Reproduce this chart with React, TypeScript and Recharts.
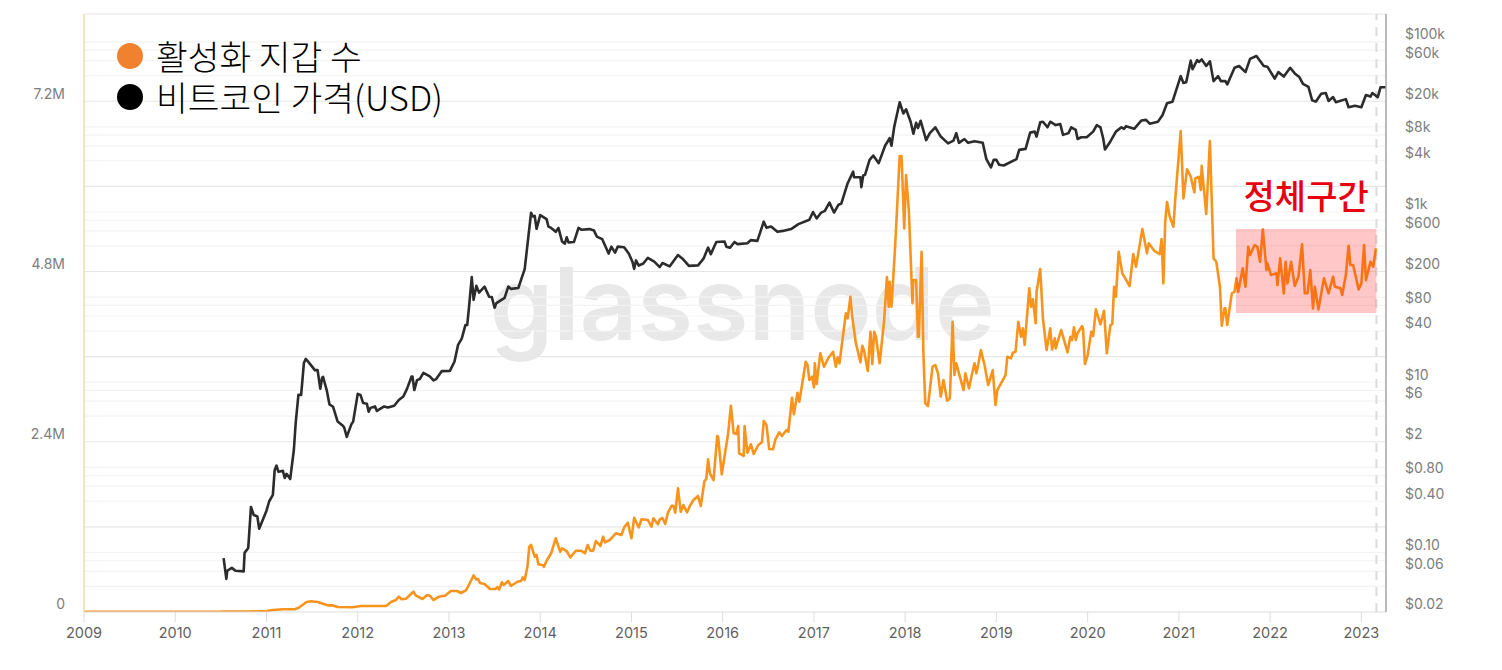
import React from "react";
import { LineChart, Line, XAxis, YAxis, ReferenceLine, ReferenceArea } from "recharts";

const yearTicks = [2009, 2010, 2011, 2012, 2013, 2014, 2015, 2016, 2017, 2018, 2019, 2020, 2021, 2022, 2023];
const walletTicks = [0, 2400, 4800, 7200];
const priceTicks = [0.02, 0.06, 0.1, 0.4, 0.8, 2, 6, 10, 40, 80, 200, 600, 1000, 4000, 8000, 20000, 60000, 100000];
const priceGridMinor = [0.04, 0.06, 0.08, 0.1, 0.4, 0.6, 0.8, 1, 4, 6, 8, 10, 40, 60, 80, 100, 400, 600, 800, 1000, 4000, 6000, 8000, 10000, 40000, 60000, 80000, 100000];
const priceGridMajor = [0.2, 2, 20, 200, 2000, 20000];

const legendItems = [
  { label: "활성화 지갑 수", color: "#f0812f" },
  { label: "비트코인 가격(USD)", color: "#000000" },
];

const priceDates = [
  2010.53, 2010.56, 2010.57, 2010.62, 2010.66, 2010.75, 2010.76, 2010.80, 2010.83, 2010.86, 2010.90, 2010.92,
  2011.00, 2011.03, 2011.07, 2011.09, 2011.11, 2011.13, 2011.18, 2011.20, 2011.22, 2011.26, 2011.30, 2011.32, 2011.35, 2011.38,
  2011.41, 2011.43, 2011.47, 2011.53, 2011.56, 2011.59, 2011.61, 2011.62, 2011.66, 2011.69, 2011.73, 2011.78, 2011.84, 2011.85, 2011.88, 2011.93, 2011.95,
  2012.00, 2012.03, 2012.06, 2012.10, 2012.12, 2012.14, 2012.19, 2012.21, 2012.29, 2012.33, 2012.40, 2012.45, 2012.50, 2012.54, 2012.59, 2012.60, 2012.62, 2012.65, 2012.68, 2012.72, 2012.79, 2012.83, 2012.86, 2012.92,
  2013.01, 2013.06, 2013.10, 2013.14, 2013.18, 2013.20, 2013.22, 2013.25, 2013.27, 2013.30, 2013.33, 2013.39, 2013.44, 2013.47, 2013.50, 2013.52, 2013.61, 2013.65, 2013.68, 2013.76, 2013.83, 2013.90, 2013.92, 2013.94, 2013.96,
  2014.00, 2014.07, 2014.09, 2014.12, 2014.17, 2014.20, 2014.24, 2014.27, 2014.29, 2014.31, 2014.37, 2014.42, 2014.45, 2014.54, 2014.59, 2014.62, 2014.68, 2014.75, 2014.78, 2014.82, 2014.85, 2014.92, 2014.97,
  2015.01, 2015.03, 2015.05, 2015.08, 2015.13, 2015.18, 2015.25, 2015.31, 2015.34, 2015.42, 2015.51, 2015.56, 2015.63, 2015.73, 2015.79, 2015.84, 2015.87, 2015.93,
  2016.02, 2016.04, 2016.08, 2016.13, 2016.16, 2016.27, 2016.31, 2016.38, 2016.45, 2016.48, 2016.53, 2016.60, 2016.66, 2016.75, 2016.83, 2016.95, 2016.99,
  2017.03, 2017.08, 2017.12, 2017.17, 2017.22, 2017.27, 2017.30, 2017.37, 2017.43, 2017.44, 2017.51, 2017.52, 2017.54, 2017.56, 2017.61, 2017.65, 2017.71, 2017.78, 2017.83, 2017.85, 2017.88, 2017.94, 2017.98,
  2018.01, 2018.06, 2018.09, 2018.12, 2018.14, 2018.17, 2018.23, 2018.27, 2018.33, 2018.39, 2018.47, 2018.53, 2018.56, 2018.59, 2018.65, 2018.69, 2018.76, 2018.85, 2018.89, 2018.94, 2018.97,
  2019.00, 2019.03, 2019.08, 2019.22, 2019.25, 2019.32, 2019.37, 2019.42, 2019.44, 2019.48, 2019.51, 2019.56, 2019.59, 2019.65, 2019.70, 2019.73, 2019.79, 2019.82, 2019.87, 2019.89, 2019.93, 2019.99,
  2020.06, 2020.10, 2020.14, 2020.17, 2020.19, 2020.24, 2020.31, 2020.37, 2020.40, 2020.42, 2020.51, 2020.59, 2020.64, 2020.68, 2020.77, 2020.82, 2020.87, 2020.93,
  2021.02, 2021.05, 2021.08, 2021.13, 2021.15, 2021.20, 2021.22, 2021.25, 2021.30, 2021.34, 2021.38, 2021.43, 2021.46, 2021.51, 2021.53, 2021.61, 2021.66, 2021.73, 2021.78, 2021.85, 2021.93, 2021.97,
  2022.05, 2022.09, 2022.15, 2022.22, 2022.27, 2022.32, 2022.36, 2022.42, 2022.46, 2022.50, 2022.56, 2022.61, 2022.64, 2022.69, 2022.72, 2022.83, 2022.86, 2022.93,
  2023.00, 2023.05, 2023.10, 2023.12, 2023.18, 2023.21, 2023.27,
];

const priceUsd = [
  0.086, 0.049, 0.061, 0.066, 0.061, 0.06, 0.099, 0.113, 0.343, 0.276, 0.265, 0.19,
  0.31, 0.4, 0.476, 0.933, 1.05, 0.89, 0.91, 0.75, 0.84, 0.73, 1.6, 3.3, 7.1, 7.1,
  16.8, 18.8, 16.8, 13.9, 13.9, 8.4, 11.3, 11.6, 8.1, 5.5, 5.15, 3.45, 3.06, 2.98, 2.28, 3.2, 3.45,
  7.3, 7.1, 5.7, 5.6, 4.5, 5.0, 5.2, 4.6, 5.2, 5.05, 5.3, 6.2, 6.8, 8.35, 11.7, 11.7, 8.1, 10.6, 10.9, 12.9, 11.7, 10.5, 10.9, 13.5,
  13.6, 17.4, 27.5, 32.5, 47, 47, 77, 172, 93, 136, 113, 133, 101, 100, 75, 85, 98, 133, 125, 128, 213, 980, 885, 900, 635,
  920, 825, 675, 650, 585, 650, 450, 425, 505, 440, 445, 650, 620, 630, 605, 515, 480, 325, 392, 333, 392, 385, 325,
  262, 215, 270, 235, 248, 290, 262, 225, 252, 230, 312, 283, 233, 236, 283, 382, 320, 445,
  450, 392, 380, 445, 420, 430, 468, 458, 770, 652, 675, 585, 600, 630, 720, 810, 1000,
  840, 985, 1030, 1290, 985, 1220, 1255, 2180, 2980, 2560, 2560, 1960, 2680, 2730, 4100, 4600, 3750, 6000, 7360, 6000, 10000, 19500, 14400,
  16100, 11500, 8300, 11200, 9700, 11800, 7000, 8450, 9900, 7700, 6400, 6900, 8450, 6500, 7200, 6500, 6800, 6500, 4180, 3340, 4100,
  4100, 3590, 3520, 4180, 5370, 5520, 8570, 8800, 7700, 11300, 11500, 9900, 11500, 10500, 10800, 8060, 8450, 9900, 9200, 7200, 7550, 7550,
  8800, 10500, 9900, 7360, 5430, 6500, 8800, 9900, 9500, 10200, 9500, 11900, 12100, 10900, 11500, 13700, 19000, 19800,
  39500, 32800, 33400, 60000, 47500, 61000, 58000, 62000, 52000, 59000, 34500, 39500, 34500, 34500, 31500, 49500, 52000, 44000, 63000, 68000, 52000, 51000,
  37000, 44000, 39000, 49500, 42500, 38500, 32000, 29500, 20600, 19800, 24500, 25000, 20200, 22400, 19500, 21200, 17000, 17700,
  17000, 23700, 22700, 25000, 22400, 29200, 29200,
];

const walletDates = [
  2009.00, 2009.50, 2010.00, 2010.50, 2010.53, 2010.80, 2011.00, 2011.07, 2011.18, 2011.31, 2011.36, 2011.44, 2011.49, 2011.56, 2011.67, 2011.72, 2011.78, 2011.94,
  2012.04, 2012.31, 2012.37, 2012.42, 2012.45, 2012.48, 2012.53, 2012.61, 2012.64, 2012.71, 2012.76, 2012.79, 2012.83, 2012.89, 2012.96,
  2013.02, 2013.09, 2013.13, 2013.19, 2013.27, 2013.30, 2013.32, 2013.34, 2013.39, 2013.45, 2013.51, 2013.53, 2013.55, 2013.58, 2013.60, 2013.65, 2013.68, 2013.75, 2013.79, 2013.81, 2013.83, 2013.86, 2013.88, 2013.90, 2013.94, 2013.96, 2013.98,
  2014.03, 2014.04, 2014.07, 2014.12, 2014.17, 2014.22, 2014.24, 2014.29, 2014.33, 2014.39, 2014.45, 2014.49, 2014.52, 2014.55, 2014.58, 2014.61, 2014.66, 2014.69, 2014.71, 2014.76, 2014.83, 2014.89, 2014.92, 2014.96,
  2015.00, 2015.03, 2015.08, 2015.11, 2015.18, 2015.22, 2015.24, 2015.29, 2015.31, 2015.34, 2015.37, 2015.40, 2015.44, 2015.46, 2015.48, 2015.51, 2015.54, 2015.57, 2015.61, 2015.64, 2015.68, 2015.73, 2015.76, 2015.80, 2015.82, 2015.84, 2015.86, 2015.90, 2015.94, 2015.95, 2015.99,
  2016.06, 2016.09, 2016.12, 2016.15, 2016.17, 2016.18, 2016.23, 2016.24, 2016.27, 2016.31, 2016.34, 2016.39, 2016.43, 2016.45, 2016.48, 2016.51, 2016.55, 2016.58, 2016.62, 2016.65, 2016.70, 2016.72, 2016.76, 2016.78, 2016.82, 2016.84, 2016.91, 2016.93, 2016.95, 2016.98,
  2017.00, 2017.01, 2017.03, 2017.07, 2017.11, 2017.16, 2017.21, 2017.24, 2017.26, 2017.28, 2017.35, 2017.37, 2017.40, 2017.42, 2017.46, 2017.51, 2017.53, 2017.55, 2017.59, 2017.62, 2017.64, 2017.66, 2017.68, 2017.72, 2017.77, 2017.80, 2017.82, 2017.83, 2017.85, 2017.89, 2017.94, 2017.96, 2017.99,
  2018.01, 2018.04, 2018.08, 2018.09, 2018.12, 2018.14, 2018.15, 2018.18, 2018.20, 2018.22, 2018.25, 2018.30, 2018.33, 2018.36, 2018.39, 2018.42, 2018.46, 2018.49, 2018.52, 2018.54, 2018.56, 2018.64, 2018.66, 2018.70, 2018.73, 2018.76, 2018.78, 2018.80, 2018.83, 2018.87, 2018.91, 2018.96, 2018.99,
  2019.01, 2019.10, 2019.12, 2019.16, 2019.18, 2019.21, 2019.24, 2019.27, 2019.29, 2019.31, 2019.36, 2019.38, 2019.40, 2019.43, 2019.44, 2019.48, 2019.51, 2019.55, 2019.59, 2019.61, 2019.64, 2019.65, 2019.71, 2019.78, 2019.81, 2019.83, 2019.85, 2019.87, 2019.89, 2019.94, 2019.95, 2019.97,
  2020.00, 2020.04, 2020.06, 2020.09, 2020.14, 2020.18, 2020.21, 2020.25, 2020.27, 2020.29, 2020.31, 2020.34, 2020.38, 2020.46, 2020.50, 2020.53, 2020.60, 2020.65, 2020.67, 2020.73, 2020.79, 2020.81, 2020.83, 2020.85, 2020.87, 2020.90, 2020.94, 2020.96,
  2021.02, 2021.05, 2021.09, 2021.13, 2021.17, 2021.18, 2021.22, 2021.24, 2021.25, 2021.30, 2021.34, 2021.38, 2021.41, 2021.45, 2021.47, 2021.50, 2021.51, 2021.53, 2021.58, 2021.61, 2021.63, 2021.65, 2021.70, 2021.73, 2021.76, 2021.78, 2021.83, 2021.86, 2021.89, 2021.92, 2021.96, 2021.97,
  2022.01, 2022.07, 2022.08, 2022.11, 2022.15, 2022.17, 2022.19, 2022.23, 2022.27, 2022.31, 2022.35, 2022.38, 2022.41, 2022.44, 2022.47, 2022.49, 2022.53, 2022.57, 2022.59, 2022.64, 2022.69, 2022.71, 2022.77, 2022.79, 2022.83, 2022.86, 2022.88, 2022.91, 2022.97,
  2023.00, 2023.03, 2023.05, 2023.10, 2023.13, 2023.16,
];

const walletThousands = [
  2, 3, 3, 5, 8, 6, 12, 28, 38, 38, 66, 141, 151, 141, 94, 94, 70, 66,
  85, 85, 145, 169, 216, 179, 188, 286, 230, 183, 240, 230, 169, 216, 233,
  296, 296, 268, 310, 515, 458, 465, 409, 395, 324, 324, 352, 317, 419, 381, 437, 367, 427, 437, 489, 451, 639, 921, 945, 780, 804, 673,
  658, 635, 723, 828, 1039, 850, 898, 860, 771, 864, 864, 828, 945, 864, 864, 1001, 931, 1062, 983, 1015, 1110, 1086, 1194, 1259,
  1039, 1330, 1194, 1307, 1297, 1203, 1321, 1237, 1307, 1325, 1241, 1400, 1499, 1499, 1400, 1744, 1414, 1509, 1406, 1495, 1579, 1636, 1495, 1847, 1871, 2153, 1956, 1861, 2482, 2472, 1942,
  2520, 2909, 2520, 2510, 2623, 2238, 2200, 2623, 2246, 2365, 2228, 2355, 2393, 2693, 2637, 2298, 2294, 2439, 2534, 2482, 2566, 2542, 3022, 2788, 3092, 2965, 3529, 3483, 3271, 3318,
  3168, 3507, 3215, 3648, 3459, 3586, 3670, 3459, 3591, 3507, 4212, 4141, 4446, 4164, 3789, 3521, 3755, 3684, 3398, 3952, 3497, 3952, 3882, 3507, 4117, 4724, 4305, 4657, 4305, 5151, 6430, 6430, 5410,
  6162, 5668, 4353, 4681, 4681, 3882, 3882, 5080, 3648, 2943, 2905, 3459, 3483, 3366, 3036, 3271, 2979, 3013, 4093, 3342, 3507, 3130, 3366, 3154, 3342, 3507, 3366, 3483, 3694, 3483, 3201, 3412, 2919,
  3130, 3342, 3600, 3577, 3656, 3670, 4093, 3882, 4000, 3765, 4564, 4305, 4409, 4071, 4516, 4836, 4141, 3694, 4000, 3704, 3859, 3718, 3976, 3662, 3882, 3835, 4014, 3835, 3934, 4033, 3990, 3497,
  3624, 3952, 3892, 4268, 4057, 4248, 3648, 4047, 4061, 4587, 4446, 5080, 4776, 4597, 5048, 4869, 5400, 5058, 5199, 5094, 5048, 5259, 4635, 5499, 5781, 5574, 5433, 5816,
  6782, 5833, 6242, 6138, 5918, 6115, 6138, 5950, 6293, 5612, 6641, 4987, 4939, 4587, 4037, 4282, 4282, 4047, 4494, 4516, 4705, 4516, 4846, 4587, 5151, 5034, 5175, 5151, 4939, 5396, 4822, 4917,
  4752, 4776, 4611, 4987, 4494, 4939, 4635, 4939, 4597, 4728, 5185, 4494, 4494, 4822, 4282, 4587, 4268, 4564, 4705, 4494, 4728, 4587, 4564, 4470, 4752, 5165, 4893, 4893, 4550,
  4635, 5175, 4681, 4939, 4869, 5128,
];

const priceRows = priceDates.map((t, i) => ({ t, usd: priceUsd[i] }));
const walletRows = walletDates.map((t, i) => ({ t, k: walletThousands[i] }));

const AXIS_FONT = "Inter, 'Noto Sans', sans-serif";
const KR_FONT = "'Noto Sans CJK KR', sans-serif";

const fmtPrice = (v: number) => {
  if (v >= 1000) return `$${v / 1000}k`;
  if (v >= 1) return `$${v}`;
  return `$${v.toFixed(2)}`;
};
const fmtWallet = (v: number) => (v === 0 ? "0" : `${v / 1000}M`);

const LeftTick = (p: any) => (
  <text x={p.x - 11} y={p.y - 6.5} textAnchor="end" dominantBaseline="middle" fontFamily={AXIS_FONT} fontSize={14} fill="#7d7d7d">
    {fmtWallet(p.payload.value)}
  </text>
);
const RightTick = (p: any) => (
  <text x={p.x + 11} y={p.y - 6.5} textAnchor="start" dominantBaseline="middle" fontFamily={AXIS_FONT} fontSize={14} fill="#7d7d7d">
    {fmtPrice(p.payload.value)}
  </text>
);

const LegendBox = () => (
  <div style={{ position: "absolute", left: 117, top: 35, fontFamily: KR_FONT, fontWeight: 300, color: "#000" }}>
    {legendItems.map((it) => (
      <div key={it.label} style={{ display: "flex", alignItems: "center", height: 41 }}>
        <span style={{ width: 26, height: 26, borderRadius: "50%", background: it.color, marginRight: 13, flex: "none" }} />
        <span style={{ fontSize: 34.5, lineHeight: "41px", whiteSpace: "nowrap" }}>{it.label}</span>
      </div>
    ))}
  </div>
);

export default function App() {
  return (
    <div style={{ position: "absolute", left: 0, top: 0, width: 1502, height: 670, background: "#fff", overflow: "hidden" }}>
      <div
        style={{
          position: "absolute",
          left: 490,
          top: 241,
          fontFamily: "Inter, sans-serif",
          fontWeight: 600,
          fontSize: 101,
          lineHeight: "124px",
          color: "#e8e8e8",
          whiteSpace: "nowrap",
        }}
      >
        glassnode
      </div>
      <div style={{ position: "absolute", left: 0, top: 0 }}>
        <LineChart width={1502} height={670} margin={{ top: 14, right: 0, bottom: 0, left: 0 }}>
          <XAxis
            xAxisId="time"
            type="number"
            dataKey="t"
            domain={[2009, 2023.27]}
            ticks={yearTicks}
            interval={0}
            height={58}
            allowDataOverflow
            stroke="#dcdcdc"
            tickSize={10}
            tickMargin={6}
            tick={{ fill: "#5f5f5f", fontSize: 14.5, fontFamily: AXIS_FONT }}
            tickFormatter={(v: number) => String(v)}
          />
          <YAxis
            yAxisId="wallets"
            orientation="left"
            type="number"
            width={84}
            domain={[0, 8433]}
            ticks={walletTicks}
            interval={0}
            allowDataOverflow
            tickLine={false}
            axisLine={{ stroke: "#f6d9a6", strokeWidth: 1.5 }}
            tick={LeftTick}
          />
          <YAxis
            yAxisId="price"
            orientation="right"
            type="number"
            scale="log"
            width={116}
            domain={[0.02, 212000]}
            ticks={priceTicks}
            interval={0}
            allowDataOverflow
            tickLine={false}
            axisLine={{ stroke: "#a3a3a3", strokeWidth: 1.5 }}
            tick={RightTick}
          />
          <ReferenceLine yAxisId="price" xAxisId="time" y={212000} stroke="#eeeeee" strokeWidth={1.5} />
          {priceGridMinor.map((v) => (
            <ReferenceLine key={`m${v}`} yAxisId="price" xAxisId="time" y={v} stroke="#f3f3f3" strokeWidth={1.2} />
          ))}
          {priceGridMajor.map((v) => (
            <ReferenceLine key={`M${v}`} yAxisId="price" xAxisId="time" y={v} stroke="#e6e6e6" strokeWidth={1.2} />
          ))}
          <ReferenceLine yAxisId="price" xAxisId="time" x={2023.165} stroke="#dcdcdc" strokeWidth={2} strokeDasharray="9 7" />
          <Line
            xAxisId="time"
            yAxisId="price"
            name="비트코인 가격(USD)"
            data={priceRows}
            dataKey="usd"
            stroke="#2c2c2c"
            strokeWidth={2.6}
            strokeLinejoin="round"
            dot={false}
            isAnimationActive={false}
            type="linear"
          />
          <Line
            xAxisId="time"
            yAxisId="wallets"
            name="활성화 지갑 수"
            data={walletRows}
            dataKey="k"
            stroke="#f8941d"
            strokeWidth={2.6}
            strokeLinejoin="round"
            dot={false}
            isAnimationActive={false}
            type="linear"
          />
          <ReferenceArea
            xAxisId="time"
            yAxisId="wallets"
            x1={2021.625}
            x2={2023.165}
            y1={4216}
            y2={5400}
            fill="#ff0000"
            fillOpacity={0.22}
            stroke="none"
            zIndex={600}
            label={{
              value: "정체구간",
              position: "top",
              offset: 20,
              fill: "#e80010",
              fontSize: 34,
              fontWeight: 500,
              fontFamily: KR_FONT,
            }}
          />
        </LineChart>
      </div>
      <LegendBox />
    </div>
  );
}
